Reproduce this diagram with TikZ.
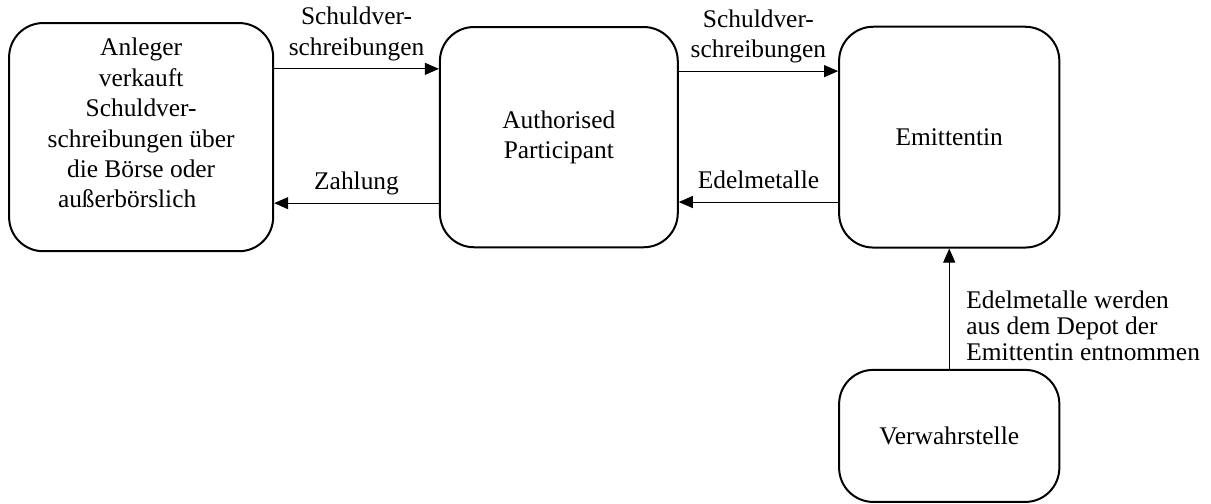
\documentclass[tikz,border=0pt]{standalone}
\usepackage{fontspec}
\setmainfont{Liberation Serif}
\usetikzlibrary{arrows.meta}

\begin{document}
\begin{tikzpicture}[>={Triangle[length=7pt,width=6pt]},
    font=\fontsize{12.7}{15.2}\selectfont,
    box/.style={draw, line width=1pt, rounded corners=0.6cm, align=center, inner sep=2pt},
    pfeil/.style={->, line width=0.5pt},
    beschr/.style={above, align=center, inner sep=2.5pt, text depth=4pt}]
\useasboundingbox (0,0) rectangle (21.28,8.84);

% Kaesten
\node[box, minimum width=4.64cm, minimum height=4.01cm, text depth=14pt] (anleger) at (2.48,6.43)
    {Anleger\\verkauft\\Schuldver-\\schreibungen über\\die Börse oder\\außerbörslich\kern14pt};
\node[box, minimum width=4.18cm, minimum height=3.87cm] (ap) at (9.82,6.43)
    {Authorised\\Participant};
\node[box, minimum width=3.87cm, minimum height=3.88cm] (emi) at (16.68,6.43) {Emittentin};
\node[box, minimum width=3.87cm, minimum height=2.32cm] (verw) at (16.68,1.18) {Verwahrstelle};

% Pfeile oben
\draw[pfeil] ([yshift=1.2cm]anleger.east) -- ([yshift=1.2cm]ap.west)
    node[beschr, midway] {Schuldver-\\schreibungen};
\draw[pfeil] ([yshift=1.16cm]ap.east) -- ([yshift=1.16cm]emi.west)
    node[beschr, midway] {Schuldver-\\schreibungen};

% Pfeile unten
\draw[pfeil] ([yshift=-1.16cm]ap.west) -- ([yshift=-1.16cm]anleger.east)
    node[beschr, midway] {Zahlung};
\draw[pfeil] ([yshift=-1.14cm]emi.west) -- ([yshift=-1.14cm]ap.east)
    node[beschr, midway] {Edelmetalle};

% Verwahrstelle
\draw[pfeil] (verw.north) -- (emi.south)
    node[pos=0.36, right, xshift=5pt, align=left, font=\fontsize{12.7}{13}\selectfont]
    {Edelmetalle werden\\aus dem Depot der\\Emittentin entnommen};

\end{tikzpicture}
\end{document}
